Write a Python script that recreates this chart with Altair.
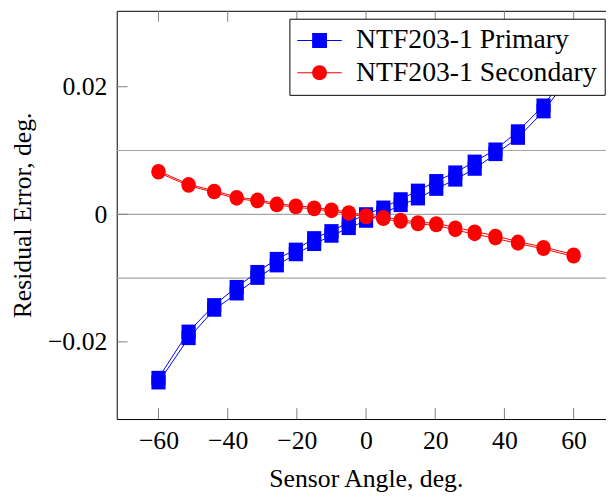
import altair as alt
import pandas as pd

# ---------------- data ----------------
angles = [-60, -51.3, -43.9, -37.4, -31.4, -25.8, -20.3, -15, -10, -5, 0,
          5, 10, 15, 20.3, 25.8, 31.4, 37.4, 43.9, 51.3, 60]

primary_run1 = [-0.02565, -0.0184, -0.01425, -0.0114, -0.00905, -0.0070, -0.00555,
                -0.00375, -0.00265, -0.00125, 0.0000, 0.00105, 0.00235, 0.0037,
                0.0052, 0.00655, 0.00825, 0.01015, 0.0130, 0.01705, 0.0235]
primary_run2 = [-0.02635, -0.0194, -0.01495, -0.0124, -0.00995, -0.0080, -0.00625,
                -0.00465, -0.00335, -0.00215, -0.0010, 0.00015, 0.00145, 0.0025,
                0.0040, 0.00545, 0.00715, 0.00945, 0.0120, 0.01615, 0.0225]

secondary_run1 = [0.00679, 0.00472, 0.00369, 0.0027, 0.00229, 0.00167, 0.00136,
                  0.00105, 0.00074, 0.00032, -0.00015, -0.00042, -0.00085, -0.00125,
                  -0.0014, -0.00207, -0.0027, -0.00337, -0.00429, -0.00512, -0.00631]
secondary_run2 = [0.00655, 0.00448, 0.00345, 0.00246, 0.00205, 0.00143, 0.00112,
                  0.00081, 0.0005, 0.00008, -0.00045, -0.00072, -0.00115, -0.00155,
                  -0.0017, -0.00247, -0.0031, -0.00377, -0.00459, -0.00542, -0.00661]

series_names = ["NTF203-1 Primary", "NTF203-1 Secondary"]
series_colors = ["#0000ff", "#ff0000"]
x_ticks = [-60, -40, -20, 0, 20, 40, 60]
y_ticks = [-0.02, 0, 0.02]
grid_y = [-0.01, 0, 0.01]

rows = []
for name, runs in [(series_names[0], [primary_run1, primary_run2]),
                   (series_names[1], [secondary_run1, secondary_run2])]:
    for ri, vals in enumerate(runs):
        for a, v in zip(angles, vals):
            rows.append({"angle": a, "err": v, "series": name, "run": f"{name}-{ri}"})
df = pd.DataFrame(rows)

# ---------------- layout ----------------
W, H = 495, 413
FONT = "Liberation Serif"
TICK_LEN = 11

xscale = alt.Scale(domain=[-72.07, 69.36], nice=False, zero=False)
yscale = alt.Scale(domain=[-0.0321, 0.0319], nice=False, zero=False)

# legend symbols: line with marker (custom paths)
SQ = "M-3,-0.07L3,-0.07L3,0.07L-3,0.07ZM-1,-1L1,-1L1,1L-1,1Z"
CI = "M-3,-0.07L3,-0.07L3,0.07L-3,0.07ZM-1,0A1,1,0,1,1,1,0A1,1,0,1,1,-1,0Z"
color_scale = alt.Scale(domain=series_names, range=series_colors)
shape_scale = alt.Scale(domain=series_names, range=[SQ, CI])

bottom_axis = alt.Axis(
    orient="bottom", values=x_ticks, format="d", ticks=False, tickSize=0,
    labelPadding=8.5, labelFont=FONT, labelFontSize=26, labelColor="black",
    labelFlush=False, labelOverlap=False, domain=True, domainColor="black",
    domainWidth=1, grid=False, title="Sensor Angle, deg.", titleFont=FONT,
    titleFontSize=26, titleFontWeight="normal", titleColor="black",
    titleX=252, titleY=68, titleBaseline="alphabetic")
top_axis = alt.Axis(orient="top", labels=False, ticks=False, tickSize=0,
                    domain=True, domainColor="black", domainWidth=1,
                    grid=False, title=None)
y_axis = alt.Axis(
    values=y_ticks, format="~g", ticks=False, tickSize=0, labelPadding=10,
    labelFont=FONT, labelFontSize=26, labelColor="black", labelFlush=False,
    labelOverlap=False, domain=True, domainColor="black", domainWidth=1,
    grid=False, title="Residual Error, deg.", titleFont=FONT, titleFontSize=26,
    titleFontWeight="normal", titleColor="black", titleX=-87, titleY=H / 2,
    titleAngle=270, titleBaseline="alphabetic")

legend = alt.Legend(
    title=None, orient="none", legendX=174.7, legendY=8, fillColor="white",
    strokeColor="black", padding=8, symbolSize=225, symbolOffset=8.5,
    symbolStrokeWidth=0, symbolOpacity=1, labelOffset=23, labelFont=FONT,
    labelFontSize=28, labelColor="black", labelLimit=500, rowPadding=4.6,
    zindex=5)

Y = alt.Y("err:Q", scale=yscale, axis=y_axis)
Xn = alt.X("angle:Q", scale=xscale, axis=None)

grid = alt.Chart(pd.DataFrame({"g": grid_y})).mark_rule(
    color="#a6a6a6", strokeWidth=1.2).encode(
    y=alt.Y("g:Q", scale=yscale, axis=y_axis))

tick_df = pd.DataFrame({"t": x_ticks})
bottom_ticks = alt.Chart(tick_df).mark_rule(color="#808080", strokeWidth=1).encode(
    x=alt.X("t:Q", scale=xscale, axis=bottom_axis),
    y=alt.value(H), y2=alt.value(H - TICK_LEN))
top_ticks = alt.Chart(tick_df).mark_rule(color="#808080", strokeWidth=1).encode(
    x=alt.X("t:Q", scale=xscale, axis=top_axis),
    y=alt.value(0), y2=alt.value(TICK_LEN))
left_ticks = alt.Chart(pd.DataFrame({"v": y_ticks})).mark_rule(
    color="#808080", strokeWidth=1).encode(
    y=alt.Y("v:Q", scale=yscale, axis=y_axis),
    x=alt.value(0), x2=alt.value(TICK_LEN))

# invisible layer that only supplies the legend
legend_layer = alt.Chart(df).mark_point(filled=True, opacity=0).encode(
    x=Xn, y=Y,
    color=alt.Color("series:N", scale=color_scale, legend=legend),
    shape=alt.Shape("series:N", scale=shape_scale, legend=legend))

layers = [grid, legend_layer]
for name, col, shp in zip(series_names, series_colors, ["square", "circle"]):
    sub = alt.Chart(df).transform_filter(alt.datum.series == name)
    lines = sub.mark_line(color=col, strokeWidth=1).encode(
        x=Xn, y=Y, detail="run:N")
    pts = sub.mark_point(filled=True, shape=shp, size=205, opacity=1,
                         strokeWidth=0, color=col).encode(
        x=Xn, y=Y, detail="run:N")
    layers += [lines, pts]
layers += [bottom_ticks, top_ticks, left_ticks]

chart = alt.layer(*layers).resolve_axis(x="independent").properties(
    width=W, height=H,
    padding={"left": 110, "top": 0, "right": 0, "bottom": 76},
    autosize=alt.AutoSizeParams(type="none"),
    background="white",
).configure_view(stroke=None)

chart.save("out.html", embed_options={"renderer": "svg", "actions": False})
